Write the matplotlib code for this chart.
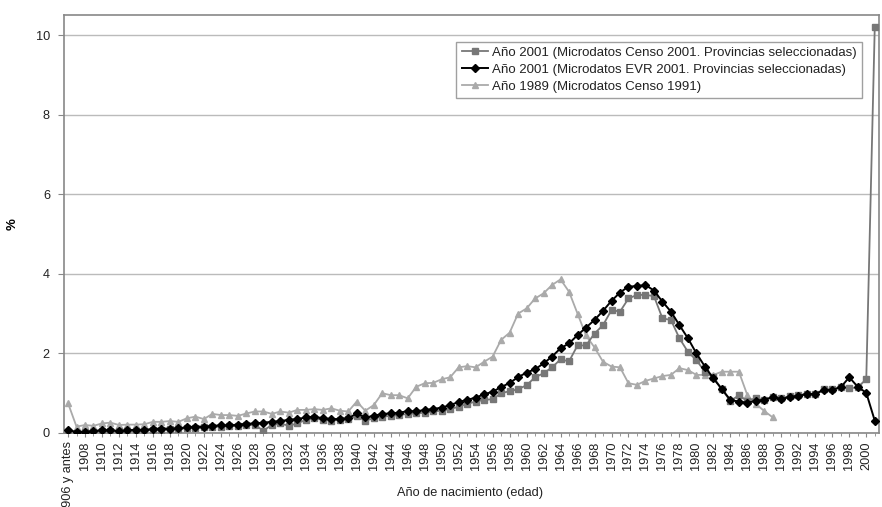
import matplotlib
matplotlib.use("Agg")
import matplotlib.pyplot as plt
from matplotlib.ticker import FixedLocator, MultipleLocator

plt.rcParams['font.family'] = ['Liberation Sans', 'DejaVu Sans']

categories = ["1906 y antes"] + [str(y) for y in range(1907, 2002)]

censo2001 = [0.03, 0.01, 0.02, 0.03, 0.05, 0.05, 0.04, 0.05, 0.06, 0.06,
             0.08, 0.08, 0.09, 0.10, 0.12, 0.13, 0.14, 0.15, 0.16, 0.17,
             0.18, 0.20, 0.20, 0.06, 0.20, 0.24, 0.18, 0.24, 0.33, 0.37,
             0.33, 0.31, 0.33, 0.34, 0.42, 0.31, 0.37, 0.41, 0.43, 0.45,
             0.48, 0.49, 0.51, 0.54, 0.56, 0.60, 0.66, 0.73, 0.79, 0.83,
             0.85, 1.00, 1.05, 1.10, 1.20, 1.40, 1.50, 1.65, 1.85, 1.80,
             2.20, 2.20, 2.50, 2.71, 3.09, 3.05, 3.38, 3.47, 3.47, 3.44,
             2.88, 2.84, 2.38, 2.04, 1.83, 1.54, 1.40, 1.10, 0.80, 0.95,
             0.80, 0.88, 0.82, 0.90, 0.88, 0.92, 0.95, 0.98, 0.98, 1.10,
             1.10, 1.15, 1.12, 1.15, 1.35, 10.2]

evr2001 = [0.07, 0.03, 0.03, 0.05, 0.07, 0.07, 0.05, 0.07, 0.08, 0.08,
           0.10, 0.11, 0.11, 0.12, 0.14, 0.16, 0.16, 0.18, 0.19, 0.19,
           0.21, 0.23, 0.24, 0.26, 0.28, 0.30, 0.33, 0.35, 0.39, 0.41,
           0.37, 0.35, 0.35, 0.37, 0.49, 0.39, 0.43, 0.48, 0.49, 0.51,
           0.55, 0.54, 0.58, 0.60, 0.64, 0.70, 0.78, 0.83, 0.89, 0.97,
           1.04, 1.15, 1.26, 1.40, 1.52, 1.60, 1.75, 1.92, 2.13, 2.25,
           2.46, 2.65, 2.84, 3.07, 3.32, 3.53, 3.68, 3.69, 3.72, 3.58,
           3.30, 3.05, 2.71, 2.38, 2.00, 1.67, 1.37, 1.10, 0.83, 0.79,
           0.76, 0.81, 0.83, 0.91, 0.85, 0.91, 0.93, 0.98, 0.98, 1.08,
           1.08, 1.15, 1.40, 1.16, 1.01, 0.31]

censo1991 = [0.75, 0.16, 0.20, 0.18, 0.24, 0.26, 0.20, 0.21, 0.21, 0.22,
             0.28, 0.28, 0.30, 0.28, 0.37, 0.41, 0.35, 0.48, 0.45, 0.45,
             0.43, 0.49, 0.54, 0.54, 0.48, 0.54, 0.51, 0.58, 0.58, 0.60,
             0.58, 0.62, 0.56, 0.54, 0.79, 0.56, 0.70, 1.00, 0.95, 0.95,
             0.87, 1.16, 1.25, 1.26, 1.35, 1.40, 1.65, 1.68, 1.65, 1.79,
             1.92, 2.34, 2.52, 3.00, 3.13, 3.38, 3.51, 3.72, 3.86, 3.55,
             3.00, 2.45, 2.15, 1.79, 1.67, 1.65, 1.25, 1.21, 1.31, 1.37,
             1.43, 1.46, 1.63, 1.58, 1.46, 1.46, 1.46, 1.54, 1.54, 1.54,
             0.95, 0.73, 0.55, 0.39]

legend_labels = ["Año 2001 (Microdatos Censo 2001. Provincias seleccionadas)",
                 "Año 2001 (Microdatos EVR 2001. Provincias seleccionadas)",
                 "Año 1989 (Microdatos Censo 1991)"]

fig = plt.figure(figsize=(8.82, 5.07), dpi=100)
ax = fig.add_axes([0.0723, 0.146, 0.9243, 0.824])

x_all = list(range(len(categories)))
ax.plot(x_all, censo2001, color='#777777', marker='s', markersize=4.5,
        linewidth=1.3, label=legend_labels[0], zorder=3)
ax.plot(x_all, evr2001, color='black', marker='D', markersize=4.0,
        linewidth=1.4, label=legend_labels[1], zorder=4)
ax.plot(x_all[:len(censo1991)], censo1991, color='#aaaaaa', marker='^',
        markersize=4.8, linewidth=1.3, label=legend_labels[2], zorder=2)

ax.set_xlim(-0.5, len(categories) - 0.5)
ax.set_ylim(0, 10.5)
ax.yaxis.set_major_locator(FixedLocator([0, 2, 4, 6, 8, 10]))
ax.yaxis.grid(True, color='#bbbbbb', linewidth=1.0)
ax.set_axisbelow(True)

ax.set_xticks(x_all[::2])
ax.set_xticklabels(categories[::2], rotation=90, fontsize=9.2, color='#222222')
ax.xaxis.set_minor_locator(MultipleLocator(1))
ax.tick_params(axis='x', which='major', length=3, color='#888888', pad=3)
ax.tick_params(axis='x', which='minor', length=2, color='#888888')
ax.tick_params(axis='y', length=4, color='#888888', labelsize=9.2,
               labelcolor='#222222', pad=6)

for s in ['left', 'bottom', 'top', 'right']:
    ax.spines[s].set_color('#888888')
    ax.spines[s].set_linewidth(1.2)

ax.set_ylabel('%', fontsize=9.5, fontweight='bold', rotation=90, labelpad=12)
fig.text(0.533, 0.027, 'Año de nacimiento (edad)', ha='center', va='center',
         fontsize=9.2, color='#222222')

leg = ax.legend(loc='upper right', bbox_to_anchor=(0.979, 0.937),
                fontsize=9.5, frameon=True, fancybox=False, handlelength=2.0,
                borderpad=0.4, labelspacing=0.35, handletextpad=0.3,
                borderaxespad=0)
leg.get_frame().set_edgecolor('#888888')
leg.get_frame().set_linewidth(1.0)
for t in leg.get_texts():
    t.set_color('#222222')

fig.savefig('out.png', dpi=100)
